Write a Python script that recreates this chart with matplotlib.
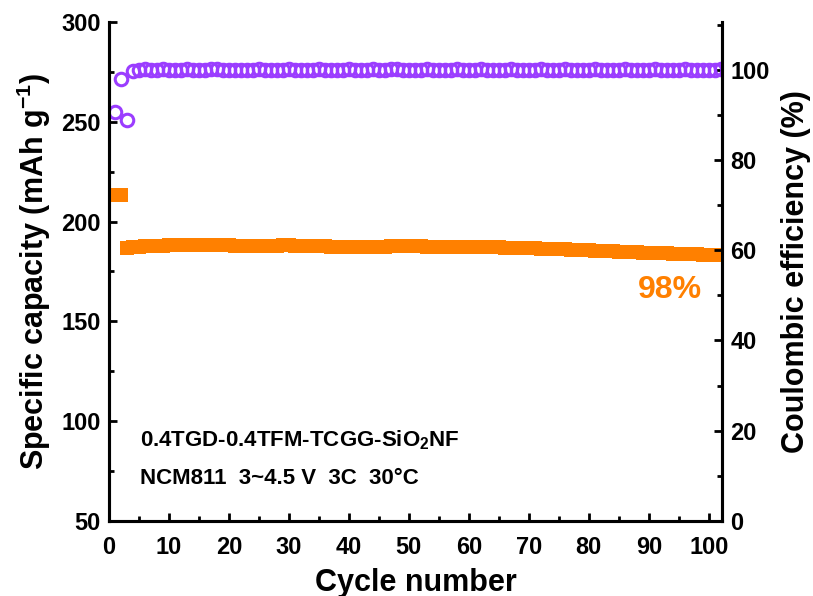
import numpy as np
import matplotlib
matplotlib.use('Agg')
import matplotlib.pyplot as plt
from matplotlib.ticker import MultipleLocator

plt.rcParams['font.family'] = ['Liberation Sans', 'DejaVu Sans']
plt.rcParams['font.weight'] = 'bold'
plt.rcParams['mathtext.fontset'] = 'custom'
plt.rcParams['mathtext.rm'] = 'Liberation Sans:bold'
plt.rcParams['mathtext.default'] = 'rm'

# capacity (mAh g-1) per cycle
capacity = [213.5, 213.2,
            187.0, 187.3, 187.5, 187.7, 187.8, 187.9, 188.0, 188.1, 188.1, 188.2,
            188.2, 188.2, 188.1, 188.2, 188.2, 188.3, 188.2, 188.1, 188.0, 188.0,
            188.0, 188.0, 187.9, 188.0, 188.0, 188.0, 188.1, 188.1, 188.0, 187.9,
            187.8, 187.7, 187.6, 187.6, 187.5, 187.5, 187.5, 187.4, 187.4, 187.5,
            187.5, 187.5, 187.5, 187.5, 187.6, 187.6, 187.7, 187.7, 187.6, 187.6,
            187.5, 187.5, 187.5, 187.4, 187.4, 187.4, 187.5, 187.5, 187.5, 187.4,
            187.3, 187.2, 187.1, 187.0, 187.0, 186.9, 186.8, 186.7, 186.6, 186.5,
            186.4, 186.3, 186.2, 186.1, 186.0, 185.9, 185.8, 185.6, 185.5, 185.4,
            185.3, 185.2, 185.0, 184.9, 184.8, 184.7, 184.5, 184.4, 184.3, 184.2,
            184.1, 184.0, 183.9, 183.8, 183.7, 183.6, 183.5, 183.4, 183.3, 183.2]
cycles = list(range(1, len(capacity) + 1))

# coulombic efficiency (%) per cycle
ce = [90.7, 98.0, 88.9,
      99.8, 100.0, 100.1, 99.9, 100.0, 100.1, 100.0, 99.9, 100.0, 100.1, 100.0,
      99.9, 100.0, 100.1, 100.2, 100.0, 99.9, 100.0, 100.0, 99.9, 100.0, 100.1,
      100.0, 99.9, 100.0, 100.0, 100.1, 100.0, 99.9, 100.0, 100.0, 100.1, 100.0,
      99.9, 100.0, 100.0, 100.1, 100.0, 99.9, 100.0, 100.1, 100.0, 100.0, 100.1,
      100.2, 100.0, 99.9, 100.0, 100.0, 100.1, 100.0, 99.9, 100.0, 100.0, 100.1,
      100.0, 99.9, 100.0, 100.1, 100.0, 99.9, 100.0, 100.0, 100.1, 100.0, 99.9,
      100.0, 100.0, 100.1, 100.0, 99.9, 100.0, 100.1, 100.0, 100.0, 99.9, 100.0,
      100.1, 100.0, 99.9, 100.0, 100.0, 100.1, 100.0, 99.9, 100.0, 100.0, 100.1,
      100.0, 99.9, 100.0, 100.0, 100.1, 100.0, 100.0, 99.9, 100.0, 100.0, 100.1]
ce_cycles = list(range(1, len(ce) + 1))

orange = '#FF8000'
purple = '#9B3DFF'

fig = plt.figure(figsize=(8.13, 5.96), dpi=100)
ax = fig.add_axes([0.134, 0.126, 0.754, 0.837])
ax2 = ax.twinx()

ax.plot(cycles, capacity, 's', color=orange, markersize=10.2, markeredgewidth=0, zorder=3)
ax2.plot(ce_cycles, ce, 'o', markerfacecolor='none', markeredgecolor=purple,
         markersize=9, markeredgewidth=2.2)

ax.set_xlim(0, 102.2)
ax.set_ylim(50, 300)
ax2.set_ylim(0, 110.6)

ax.xaxis.set_major_locator(MultipleLocator(10))
ax.xaxis.set_minor_locator(MultipleLocator(5))
ax.yaxis.set_major_locator(MultipleLocator(50))
ax.yaxis.set_minor_locator(MultipleLocator(25))
ax2.yaxis.set_major_locator(MultipleLocator(20))
ax2.yaxis.set_minor_locator(MultipleLocator(10))

for a in (ax, ax2):
    for s in a.spines.values():
        s.set_linewidth(2.2)
    a.spines['top'].set_visible(False)
    a.tick_params(which='major', direction='in', length=6, width=2, labelsize=17, pad=6)
    a.tick_params(which='minor', direction='in', length=3.5, width=2)
ax.tick_params(axis='x', which='major', pad=11)

ax.set_xlabel('Cycle number', fontsize=22, fontweight='bold', labelpad=6)
ax.set_ylabel('Specific capacity (mAh g$^{-1}$)', fontsize=22, fontweight='bold', labelpad=6)
ax2.set_ylabel('Coulombic efficiency (%)', fontsize=22, fontweight='bold', labelpad=8)

ax.text(5.2, 90.6, '0.4TGD-0.4TFM-TCGG-SiO$_2$NF', fontsize=16, fontweight='bold', va='center')
ax.text(5.2, 71.5, 'NCM811  3~4.5 V  3C  30°C', fontsize=16, fontweight='bold', va='center')
ax.text(93.5, 165.7, '98%', fontsize=23, fontweight='bold', color=orange, ha='center', va='center')

fig.savefig('out.png', dpi=100)
